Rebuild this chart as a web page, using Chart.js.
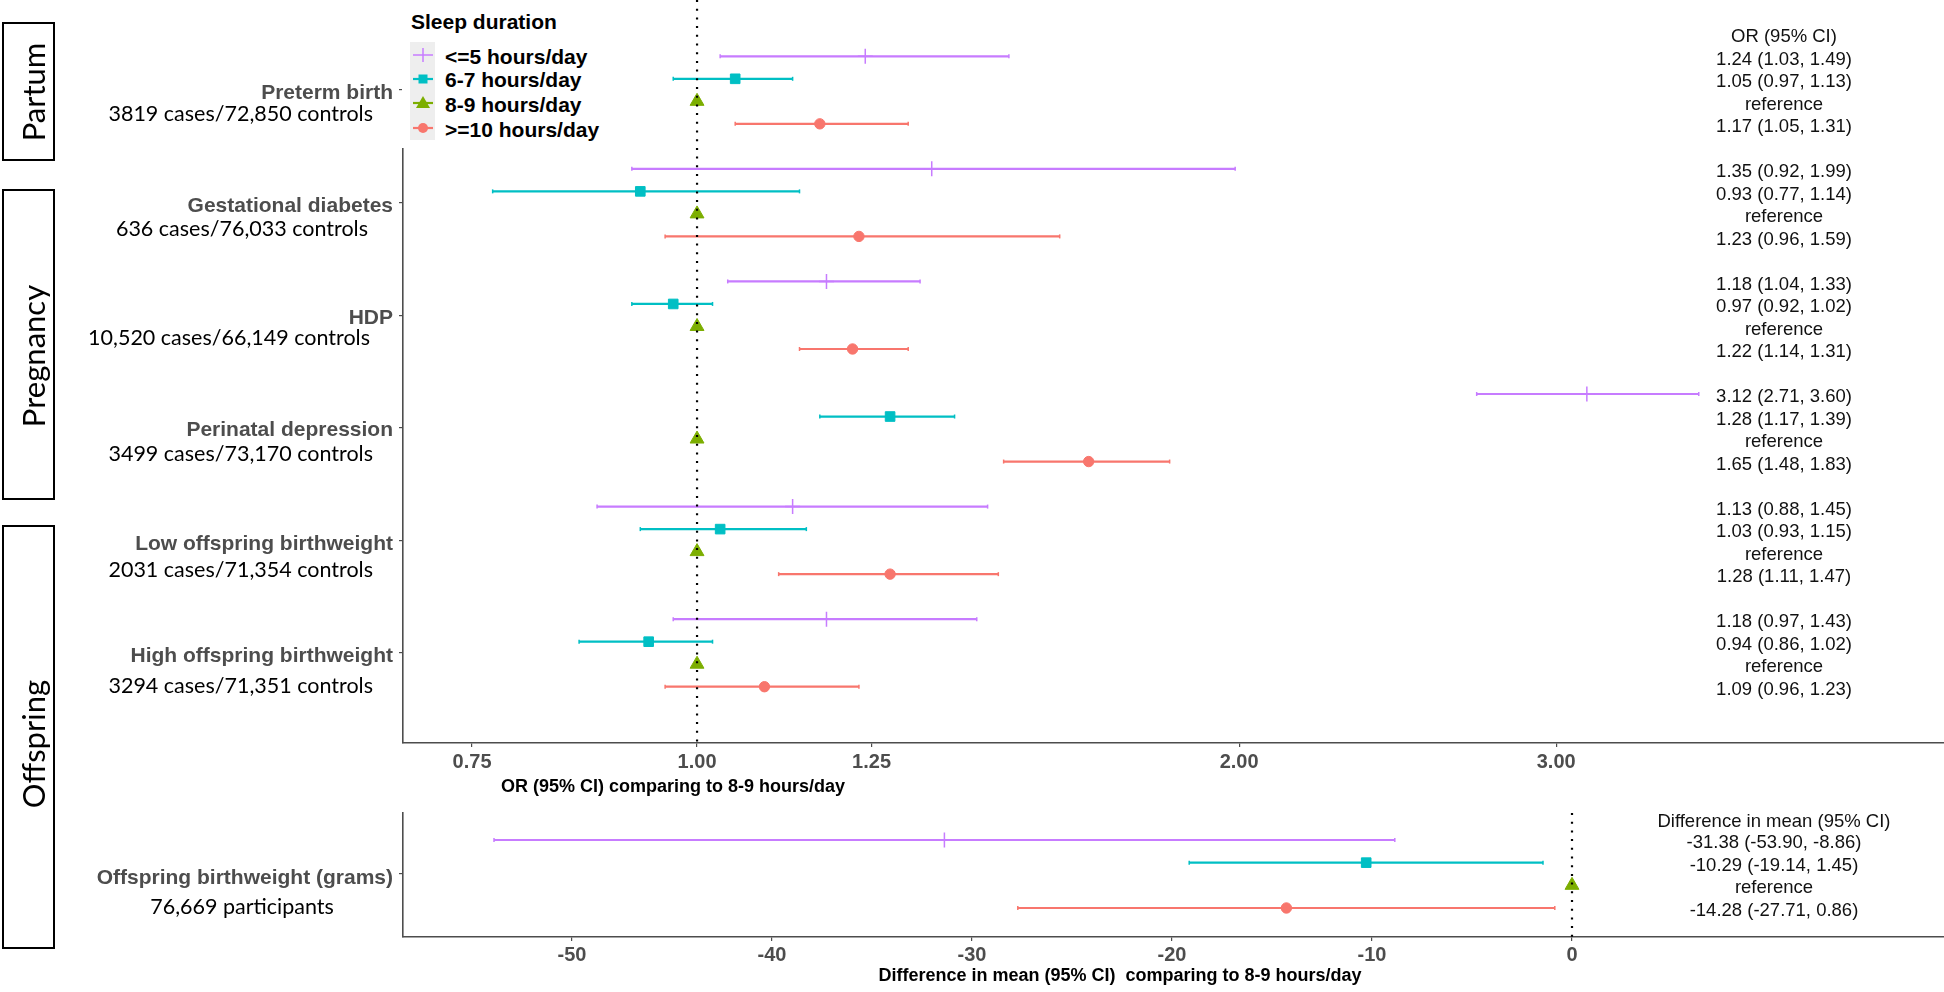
<!DOCTYPE html>
<html>
<head>
<meta charset="utf-8">
<script src="https://cdn.jsdelivr.net/npm/chart.js@4.4.1/dist/chart.umd.min.js"></script>
<style>
  body { margin: 0; background: #fff; width: 1944px; height: 992px; overflow: hidden; position: relative; font-family: "Liberation Sans", Arial, sans-serif; }
  canvas { position: absolute; left: 0; }
  .t { position: absolute; white-space: pre; line-height: 24px; }
  .grp { font-weight: bold; font-size: 21px; color: #4d4d4d; text-align: right; }
  .sub { font-family: Lato, "Open Sans", sans-serif; font-size: 21.5px; color: #000; }
  .ci { font-size: 18.5px; color: #111; text-align: center; width: 240px; line-height: 22px; }
  .axt { font-weight: bold; font-size: 18px; color: #000; transform: translateX(-50%); }
  .box { position: absolute; left: 2px; width: 53px; border: 2px solid #000; box-sizing: border-box; }
  .boxlab { position: absolute; font-family: Lato, "Open Sans", sans-serif; font-size: 31px; color: #000; white-space: nowrap; transform: translate(-50%, -50%) rotate(-90deg); }
  #legend { position: absolute; left: 402px; top: 0; width: 240px; height: 148px; background: #fff; }
  #legend .lt { position: absolute; left: 9px; top: 10px; font-weight: bold; font-size: 21px; }
  #legend .li { position: absolute; left: 43px; font-weight: bold; font-size: 21px; line-height: 24px; white-space: nowrap; }
</style>
</head>
<body>
<canvas id="orChart" width="1944" height="790" style="top:0"></canvas>
<canvas id="mdChart" width="1944" height="192" style="top:800px"></canvas>
<div id="overlay"></div>
<div id="legend">
  <div class="lt">Sleep duration</div>
  <svg width="40" height="148" style="position:absolute;left:0;top:0">
    <rect x="8" y="42" width="25" height="98" fill="#eeeeee"></rect>
    <line x1="11" y1="55" x2="31" y2="55" stroke="#C77CFF" stroke-width="1.5"></line>
    <line x1="21" y1="48" x2="21" y2="62" stroke="#C77CFF" stroke-width="1.5"></line>
    <line x1="11" y1="79" x2="31" y2="79" stroke="#00BFC4" stroke-width="2.2"></line>
    <rect x="16.5" y="74.5" width="9" height="9" fill="#00BFC4"></rect>
    <line x1="11" y1="103" x2="31" y2="103" stroke="#7CAE00" stroke-width="2.2"></line>
    <polygon points="21,96 28,108 14,108" fill="#7CAE00"></polygon>
    <line x1="11" y1="128" x2="31" y2="128" stroke="#F8766D" stroke-width="2.2"></line>
    <circle cx="21" cy="128" r="5" fill="#F8766D"></circle>
  </svg>
</div>
<script>
// ---- data ----
const outcomes = ["Preterm birth", "Gestational diabetes", "HDP", "Perinatal depression", "Low offspring birthweight", "High offspring birthweight"];
const sampleSizes = ["3819 cases/72,850 controls", "636 cases/76,033 controls", "10,520 cases/66,149 controls", "3499 cases/73,170 controls", "2031 cases/71,354 controls", "3294 cases/71,351 controls"];
const sleepGroups = ["<=5 hours/day", "6-7 hours/day", "8-9 hours/day", ">=10 hours/day"];

// odds ratios per sleep group, one value per outcome
const orShort = [1.24, 1.35, 1.18, 3.12, 1.13, 1.18];
const orShortLow = [1.03, 0.92, 1.04, 2.71, 0.88, 0.97];
const orShortHigh = [1.49, 1.99, 1.33, 3.60, 1.45, 1.43];
const orMid = [1.05, 0.93, 0.97, 1.28, 1.03, 0.94];
const orMidLow = [0.97, 0.77, 0.92, 1.17, 0.93, 0.86];
const orMidHigh = [1.13, 1.14, 1.02, 1.39, 1.15, 1.02];
const orRef = [1, 1, 1, 1, 1, 1];
const orLong = [1.17, 1.23, 1.22, 1.65, 1.28, 1.09];
const orLongLow = [1.05, 0.96, 1.14, 1.48, 1.11, 0.96];
const orLongHigh = [1.31, 1.59, 1.31, 1.83, 1.47, 1.23];
const orTicks = [0.75, 1, 1.25, 2, 3];

const bwOutcome = "Offspring birthweight (grams)";
const bwSample = "76,669 participants";
const bwEst = [-31.38, -10.29, 0, -14.28];
const bwLow = [-53.90, -19.14, null, -27.71];
const bwHigh = [-8.86, -1.45, null, -0.86];
const bwText = ["-31.38 (-53.90, -8.86)", "-10.29 (-19.14, 1.45)", "reference", "-14.28 (-27.71, 0.86)"];
const bwTicks = [-50, -40, -30, -20, -10, 0];

// ---- styles / layout ----
const colors = ["#C77CFF", "#00BFC4", "#7CAE00", "#F8766D"];
const shapes = ["cross", "rect", "triangle", "circle"];
const radii = [7.5, 6.8, 8, 5.2];
const rowOff = [-0.3, -0.1, 0.1, 0.3];
const tickFont = { family: "'Liberation Sans', Arial, sans-serif", size: 20, weight: "bold" };

const orSeries = [
  { est: orShort, lo: orShortLow, hi: orShortHigh },
  { est: orMid, lo: orMidLow, hi: orMidHigh },
  { est: orRef, lo: null, hi: null },
  { est: orLong, lo: orLongLow, hi: orLongHigh },
];

function ciData(lo, hi, ys) {
  const pts = [];
  lo.forEach((l, i) => {
    if (l == null) return;
    pts.push({ x: l, y: ys[i] }, { x: hi[i], y: ys[i] }, { x: null, y: null });
  });
  return pts;
}

function buildSets(series, refX, yMin, yMax) {
  const sets = [{
    data: [{ x: refX, y: yMin }, { x: refX, y: yMax }],
    showLine: true, borderColor: "#000", borderWidth: 2.2, borderDash: [2, 6.7],
    pointRadius: 0, order: 1,
  }];
  series.forEach((s, k) => {
    sets.push({
      data: s.est.map((v, i) => ({ x: v, y: s.ys[i] })),
      pointStyle: shapes[k], pointRadius: radii[k],
      pointBackgroundColor: colors[k], pointBorderColor: colors[k],
      pointBorderWidth: k === 0 ? 1.5 : 1, showLine: false, order: 2,
    });
    if (s.lo) {
      sets.push({
        data: ciData(s.lo, s.hi, s.ys),
        showLine: true, spanGaps: false, borderColor: colors[k], borderWidth: 2.2,
        pointStyle: "line", pointRotation: 90, pointRadius: 2, pointBorderWidth: 1.5,
        pointBorderColor: colors[k], order: 3,
      });
    }
  });
  return sets;
}

const axisBorder = { display: true, color: "#4d4d4d", width: 1.6 };
const tickGrid = { drawOnChartArea: false, drawTicks: true, tickLength: 4, color: "#4d4d4d", lineWidth: 1.2 };

// top panel: odds ratios
const topSeries = orSeries.map((s, k) => ({ ...s, ys: s.est.map((_, i) => i + rowOff[k]) }));
new Chart(document.getElementById("orChart"), {
  type: "scatter",
  data: { datasets: buildSets(topSeries, 1, -0.8, 5.8) },
  options: {
    responsive: false, animation: false, devicePixelRatio: 1,
    layout: { padding: 0, autoPadding: false },
    plugins: { legend: { display: false }, tooltip: { enabled: false } },
    scales: {
      x: {
        type: "logarithmic", min: 0.6866, max: 4.926,
        afterBuildTicks: (s) => { s.ticks = orTicks.map((v) => ({ value: v })); },
        afterFit: (s) => { s.height = 47; },
        ticks: { callback: (v) => Number(v).toFixed(2), font: tickFont, color: "#4d4d4d", padding: 3, autoSkip: false, maxRotation: 0 },
        grid: tickGrid, border: axisBorder,
      },
      y: {
        type: "linear", reverse: true, min: -0.8, max: 5.8,
        afterBuildTicks: (s) => { s.ticks = outcomes.map((_, i) => ({ value: i })); },
        afterFit: (s) => { s.width = 403; },
        ticks: { display: false },
        grid: tickGrid, border: axisBorder,
      },
    },
  },
});

// bottom panel: birthweight difference
const bwSeries = bwEst.map((v, k) => ({
  est: [v], lo: bwLow[k] == null ? null : [bwLow[k]], hi: bwHigh[k] == null ? null : [bwHigh[k]],
  ys: [k - 1.5],
}));
new Chart(document.getElementById("mdChart"), {
  type: "scatter",
  data: { datasets: buildSets(bwSeries, 0, -2.69, 2.78) },
  options: {
    responsive: false, animation: false, devicePixelRatio: 1,
    layout: { padding: { top: 13 }, autoPadding: false },
    plugins: { legend: { display: false }, tooltip: { enabled: false } },
    scales: {
      x: {
        type: "linear", min: -58.45, max: 18.6,
        afterBuildTicks: (s) => { s.ticks = bwTicks.map((v) => ({ value: v })); },
        afterFit: (s) => { s.height = 55; },
        ticks: { font: tickFont, color: "#4d4d4d", padding: 2, autoSkip: false, maxRotation: 0 },
        grid: tickGrid, border: axisBorder,
      },
      y: {
        type: "linear", reverse: true, min: -2.69, max: 2.78,
        afterBuildTicks: (s) => { s.ticks = [{ value: 0 }]; },
        afterFit: (s) => { s.width = 403; },
        ticks: { display: false },
        grid: tickGrid, border: axisBorder,
      },
    },
  },
});

// ---- text overlay ----
const overlay = document.getElementById("overlay");
function addText(cls, text, style, parent) {
  const d = document.createElement("div");
  d.className = cls;
  d.textContent = text;
  Object.assign(d.style, style);
  (parent || overlay).appendChild(d);
  return d;
}
const groupY = (g) => 90.5 + 112.5 * g;
const labelDy = [1.5, 2, 1.5, 1, 2.5, 2];
const subDy = [22.5, 25, 21.5, 25, 28.5, 32];
const subRight = [373, 368, 370, 373, 373, 373];

outcomes.forEach((name, g) => {
  addText("t grp", name, { right: (1944 - 393) + "px", top: (groupY(g) + labelDy[g] - 12) + "px" });
  addText("t sub", sampleSizes[g], { right: (1944 - subRight[g]) + "px", top: (groupY(g) + subDy[g] - 12) + "px" });
});
addText("t grp", bwOutcome, { right: (1944 - 393) + "px", top: (877 - 12) + "px" });
addText("t sub", bwSample, { left: "242px", top: (906 - 12) + "px", transform: "translateX(-50%)" });

// legend labels
const legendY = [57, 80, 105, 130];
sleepGroups.forEach((name, k) => {
  addText("li", name, { top: (legendY[k] - 12) + "px" }, document.getElementById("legend"));
});

// right-hand estimates
const ciX = 1784;
addText("t ci", "OR (95% CI)", { left: (ciX - 120) + "px", top: (36 - 11) + "px" });
outcomes.forEach((_, g) => {
  orSeries.forEach((s, k) => {
    const txt = s.lo ? s.est[g].toFixed(2) + " (" + s.lo[g].toFixed(2) + ", " + s.hi[g].toFixed(2) + ")" : "reference";
    const y = groupY(g) + (k - 1.5) * 22.5 + 2;
    addText("t ci", txt, { left: (ciX - 120) + "px", top: (y - 11) + "px" });
  });
});
addText("t ci", "Difference in mean (95% CI)", { left: (1774 - 120) + "px", top: (821 - 11) + "px" });
bwText.forEach((txt, k) => {
  const y = 874 + (k - 1.5) * 22.7 + 2;
  addText("t ci", txt, { left: (1774 - 120) + "px", top: (y - 11) + "px" });
});

// axis titles
addText("t axt", "OR (95% CI) comparing to 8-9 hours/day", { left: "673px", top: (786 - 12) + "px" });
addText("t axt", "Difference in mean (95% CI)  comparing to 8-9 hours/day", { left: "1120px", top: (975 - 12) + "px" });

// section boxes
const sections = [["Partum", 22, 139, 92], ["Pregnancy", 189, 311, 356], ["Offspring", 525, 424, 744]];
sections.forEach(([name, top, h, cy]) => {
  const b = document.createElement("div");
  b.className = "box";
  b.style.top = top + "px";
  b.style.height = h + "px";
  overlay.appendChild(b);
  addText("boxlab", name, { left: "33px", top: cy + "px" });
});
</script>
</body>
</html>
